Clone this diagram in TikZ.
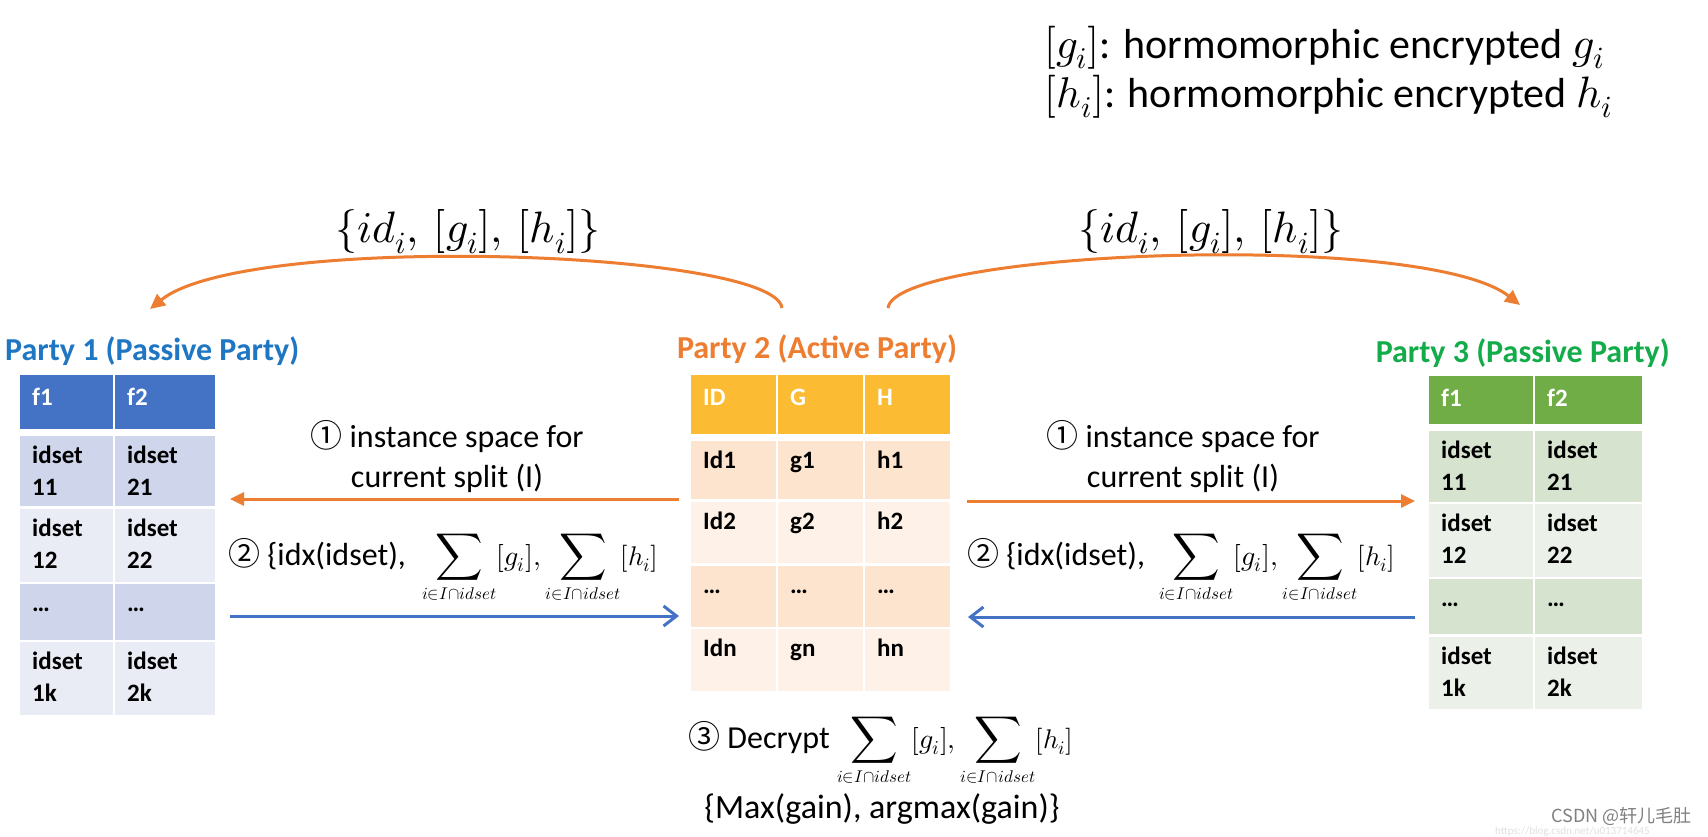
\documentclass[tikz,border=0pt]{standalone}
\usepackage{fontspec}
\usepackage{unicode-math}
\setmainfont{Carlito}
\setmathfont{Latin Modern Math}
\newfontfamily\cjkfont{Noto Sans CJK SC}
\usetikzlibrary{arrows.meta}
\definecolor{corange}{HTML}{ED7D31}
\definecolor{cblue}{HTML}{4472C4}
\definecolor{pOneText}{HTML}{1F77C4}
\definecolor{pThreeText}{HTML}{14AC4A}
\definecolor{bHead}{HTML}{4472C4}
\definecolor{bDark}{HTML}{CFD5EA}
\definecolor{bLight}{HTML}{E9EBF5}
\definecolor{oHead}{HTML}{FBBC33}
\definecolor{oDark}{HTML}{FDE4CE}
\definecolor{oLight}{HTML}{FEF2E8}
\definecolor{gHead}{HTML}{70AD47}
\definecolor{gDark}{HTML}{D5E3CF}
\definecolor{gLight}{HTML}{EBF1E9}
\newcommand\fs[2]{\fontsize{#1}{#2}\selectfont}
\newcommand\mth[2]{{\fontsize{#1}{#1}\selectfont #2}}
\newcommand\circd[1]{{\cjkfont #1}}
\newcommand\tcell[6]{\node[cellbox, fill=#6, minimum width={#4-#2}, minimum height={#5-#3}] (#1) at ({(#2+#4)/2},{(#3+#5)/2}) {};}
\newcommand\htext[2]{\node[celltext, text=white] (#1-t) at ([shift={(12pt,-30pt)}]#1.north west) {#2};}
\newcommand\otext[2]{\node[celltext] (#1-t) at ([shift={(12pt,-27pt)}]#1.north west) {#2};}
\newcommand\ttext[3]{\node[celltext] (#1-ta) at ([shift={(12pt,-27pt)}]#1.north west) {#2};
  \node[celltext] (#1-tb) at ([shift={(12pt,-59pt)}]#1.north west) {#3};}
\newcommand\bigsum{\mth{33}{$\displaystyle\sum_{\mbox{\fs{17}{17}$i{\in}I{\cap}idset$}}$}}
\newcommand\sumexpr{\bigsum\mth{28}{$[g_i]$}\mth{28}{$,$}\hspace{5pt}\bigsum\mth{27}{$[h_i]$}}
\begin{document}
\begin{tikzpicture}[x=1pt,y=-1pt,
  cellbox/.style={rectangle, draw=none, inner sep=0pt, outer sep=0pt},
  celltext/.style={anchor=base west, inner sep=0pt, font=\fs{25}{30}\bfseries, text=black},
  party/.style={inner sep=0pt, font=\fs{32}{36}\bfseries},
  lbl/.style={inner sep=0pt, font=\fs{32}{40}},
  legend/.style={inner sep=0pt, font=\fs{42}{46}, anchor=base west},
  oarrow/.style={draw=corange, line width=3pt, -{Triangle[length=14pt,width=13pt]}},
  barrow/.style={draw=cblue, line width=3pt, -{Straight Barb[length=13pt,width=20pt]}},
  arcarrow/.style={draw=corange, line width=3pt, -{Triangle[length=15pt,width=14pt]}}
]
\useasboundingbox (0,0) rectangle (1708,836);
\fill[white] (0,0) rectangle (1708,836);

% legend
\node[legend] (leg1) at (1044,58) {\mth{43}{$[g_i]$}: hormomorphic encrypted \mth{44}{$g_i$}};
\node[legend] (leg2) at (1044,107) {\mth{43}{$[h_i]$}: hormomorphic encrypted \mth{44}{$h_i$}};

% party labels
\node[party, text=pOneText, anchor=base west] (p1lbl) at (5,360) {Party 1 (Passive Party)};
\node[party, text=corange, anchor=base] (p2lbl) at (817,358) {Party 2 (Active Party)};
\node[party, text=pThreeText, anchor=base east] (p3lbl) at (1670,362) {Party 3 (Passive Party)};

% Party 1 table
\tcell{p1h1}{20}{375}{113}{429}{bHead}
\tcell{p1h2}{115}{375}{215}{429}{bHead}
\tcell{p1a1}{20}{436}{113}{506}{bDark}
\tcell{p1a2}{115}{436}{215}{506}{bDark}
\tcell{p1b1}{20}{509}{113}{582}{bLight}
\tcell{p1b2}{115}{509}{215}{582}{bLight}
\tcell{p1c1}{20}{584}{113}{640}{bDark}
\tcell{p1c2}{115}{584}{215}{640}{bDark}
\tcell{p1d1}{20}{642}{113}{715}{bLight}
\tcell{p1d2}{115}{642}{215}{715}{bLight}
\htext{p1h1}{f1} \htext{p1h2}{f2}
\ttext{p1a1}{idset}{11} \ttext{p1a2}{idset}{21}
\ttext{p1b1}{idset}{12} \ttext{p1b2}{idset}{22}
\otext{p1c1}{…} \otext{p1c2}{…}
\ttext{p1d1}{idset}{1k} \ttext{p1d2}{idset}{2k}

% Party 2 table
\tcell{p2h1}{691}{375}{776}{434}{oHead}
\tcell{p2h2}{778}{375}{863}{434}{oHead}
\tcell{p2h3}{865}{375}{950}{434}{oHead}
\tcell{p2a1}{691}{441}{776}{499}{oDark}
\tcell{p2a2}{778}{441}{863}{499}{oDark}
\tcell{p2a3}{865}{441}{950}{499}{oDark}
\tcell{p2b1}{691}{502}{776}{563}{oLight}
\tcell{p2b2}{778}{502}{863}{563}{oLight}
\tcell{p2b3}{865}{502}{950}{563}{oLight}
\tcell{p2c1}{691}{566}{776}{627}{oDark}
\tcell{p2c2}{778}{566}{863}{627}{oDark}
\tcell{p2c3}{865}{566}{950}{627}{oDark}
\tcell{p2d1}{691}{629}{776}{691}{oLight}
\tcell{p2d2}{778}{629}{863}{691}{oLight}
\tcell{p2d3}{865}{629}{950}{691}{oLight}
\htext{p2h1}{ID} \htext{p2h2}{G} \htext{p2h3}{H}
\otext{p2a1}{Id1} \otext{p2a2}{g1} \otext{p2a3}{h1}
\otext{p2b1}{Id2} \otext{p2b2}{g2} \otext{p2b3}{h2}
\otext{p2c1}{…} \otext{p2c2}{…} \otext{p2c3}{…}
\otext{p2d1}{Idn} \otext{p2d2}{gn} \otext{p2d3}{hn}

% Party 3 table
\tcell{p3h1}{1429}{376}{1533}{424}{gHead}
\tcell{p3h2}{1535}{376}{1642}{424}{gHead}
\tcell{p3a1}{1429}{431}{1533}{502}{gDark}
\tcell{p3a2}{1535}{431}{1642}{502}{gDark}
\tcell{p3b1}{1429}{504}{1533}{577}{gLight}
\tcell{p3b2}{1535}{504}{1642}{577}{gLight}
\tcell{p3c1}{1429}{579}{1533}{634}{gDark}
\tcell{p3c2}{1535}{579}{1642}{634}{gDark}
\tcell{p3d1}{1429}{637}{1533}{709}{gLight}
\tcell{p3d2}{1535}{637}{1642}{709}{gLight}
\htext{p3h1}{f1} \htext{p3h2}{f2}
\ttext{p3a1}{idset}{11} \ttext{p3a2}{idset}{21}
\ttext{p3b1}{idset}{12} \ttext{p3b2}{idset}{22}
\otext{p3c1}{…} \otext{p3c2}{…}
\ttext{p3d1}{idset}{1k} \ttext{p3d2}{idset}{2k}

% straight arrows
\coordinate (lo-s) at (679,499); \coordinate (lo-e) at (230,499);
\coordinate (lb-s) at (230,616); \coordinate (lb-e) at (679,616);
\coordinate (ro-s) at (967,501); \coordinate (ro-e) at (1415,501);
\coordinate (rb-s) at (1415,617); \coordinate (rb-e) at (968,617);
\draw[oarrow] (lo-s) -- (lo-e);
\draw[barrow] (lb-s) -- (lb-e);
\draw[oarrow] (ro-s) -- (ro-e);
\draw[barrow] (rb-s) -- (rb-e);

% arcs
\coordinate (la-s) at (782,308); \coordinate (la-e) at (150,309);
\coordinate (ra-s) at (888,308); \coordinate (ra-e) at (1520,305);
\draw[arcarrow] (la-s) .. controls (775,250) and (245,232) .. (la-e);
\draw[arcarrow] (ra-s) .. controls (895,250) and (1425,230) .. (ra-e);
\node[inner sep=0pt, font=\fs{44}{48}] (lalbl) at (468,232) {$\{id_i,\,[g_i],\,[h_i]\}$};
\node[inner sep=0pt, font=\fs{44}{48}] (ralbl) at (1211,232) {$\{id_i,\,[g_i],\,[h_i]\}$};

% step labels
\node[lbl, anchor=base] (l1a) at (447,447) {\circd{①} instance space for};
\node[lbl, anchor=base] (l1b) at (447,487) {current split (I)};
\node[lbl, anchor=base] (r1a) at (1183,447) {\circd{①} instance space for};
\node[lbl, anchor=base] (r1b) at (1183,487) {current split (I)};
\node[lbl, anchor=base west] (l2) at (228,565) {\circd{②} \{idx(idset),\hspace{16pt}\sumexpr};
\node[lbl, anchor=base west] (r2) at (967,565) {\circd{②} \{idx(idset),\hspace{14pt}\sumexpr};
\node[lbl, anchor=base west] (d3) at (688,748) {\circd{③} Decrypt \sumexpr};
\node[inner sep=0pt, font=\fs{34}{40}, anchor=base] (mx) at (882,818) {\{Max(gain), argmax(gain)\}};

% watermark
\node[inner sep=0pt, anchor=base west, text=black!12, font=\fs{11}{13}] (wurl) at (1495,834) {https://blog.csdn.net/u013714645};
\node[inner sep=0pt, anchor=base east, text=black!50, font=\cjkfont\fs{18}{20}] (wm) at (1692,822) {CSDN @轩儿毛肚};
\end{tikzpicture}
\end{document}
